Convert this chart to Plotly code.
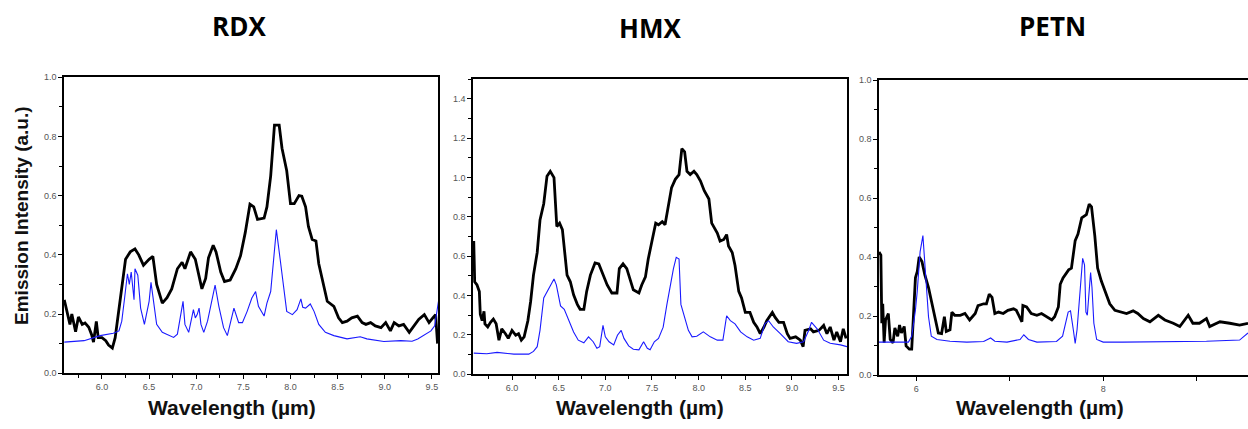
import plotly.graph_objects as go

# ---------------- data ----------------
rdx_black_x = [5.60, 5.63, 5.66, 5.68, 5.72, 5.75, 5.79, 5.82, 5.86, 5.89, 5.91, 5.94, 5.96, 6.00, 6.04, 6.07,
               6.11, 6.14, 6.18, 6.21, 6.25, 6.30, 6.35, 6.39, 6.44, 6.50, 6.54, 6.58, 6.64, 6.69, 6.74, 6.80,
               6.85, 6.88, 6.94, 6.99, 7.03, 7.06, 7.10, 7.13, 7.18, 7.21, 7.26, 7.30, 7.36, 7.42, 7.47, 7.52,
               7.57, 7.61, 7.65, 7.72, 7.75, 7.79, 7.83, 7.88, 7.91, 7.96, 8.00, 8.04, 8.09, 8.12, 8.16, 8.19,
               8.23, 8.27, 8.30, 8.34, 8.39, 8.46, 8.51, 8.55, 8.60, 8.65, 8.71, 8.76, 8.80, 8.85, 8.90, 8.96,
               9.01, 9.06, 9.10, 9.15, 9.20, 9.26, 9.31, 9.36, 9.42, 9.47, 9.51, 9.54, 9.56]
rdx_black_y = [0.248, 0.21, 0.165, 0.20, 0.14, 0.19, 0.165, 0.17, 0.155, 0.13, 0.105, 0.175, 0.12, 0.12, 0.11, 0.095,
               0.085, 0.12, 0.21, 0.285, 0.385, 0.41, 0.42, 0.40, 0.365, 0.385, 0.395, 0.30, 0.237, 0.255, 0.285, 0.353,
               0.375, 0.353, 0.41, 0.385, 0.33, 0.285, 0.32, 0.39, 0.432, 0.41, 0.342, 0.31, 0.315, 0.353, 0.397, 0.475,
               0.571, 0.562, 0.52, 0.524, 0.562, 0.667, 0.838, 0.838, 0.76, 0.684, 0.573, 0.573, 0.60, 0.598, 0.562, 0.496,
               0.452, 0.447, 0.37, 0.309, 0.243, 0.226, 0.187, 0.171, 0.176, 0.187, 0.193, 0.171, 0.165, 0.171, 0.16, 0.154,
               0.171, 0.143, 0.171, 0.16, 0.165, 0.138, 0.16, 0.182, 0.198, 0.171, 0.187, 0.198, 0.10]

rdx_blue_x = [5.60, 5.81, 5.98, 6.12, 6.18, 6.21, 6.24, 6.27, 6.29, 6.31, 6.34, 6.35, 6.38, 6.41, 6.45, 6.50,
              6.52, 6.55, 6.58, 6.64, 6.73, 6.76, 6.80, 6.83, 6.86, 6.88, 6.92, 6.97, 6.99, 7.01, 7.03, 7.05,
              7.08, 7.12, 7.17, 7.20, 7.24, 7.29, 7.33, 7.37, 7.40, 7.45, 7.49, 7.54, 7.59, 7.63, 7.66, 7.72,
              7.75, 7.79, 7.82, 7.85, 7.89, 7.93, 7.96, 8.02, 8.07, 8.11, 8.13, 8.16, 8.21, 8.25, 8.30, 8.37,
              8.46, 8.60, 8.74, 8.81, 8.99, 9.17, 9.29, 9.35, 9.49, 9.53, 9.57]
rdx_blue_y = [0.105, 0.11, 0.127, 0.135, 0.143, 0.176, 0.254, 0.336, 0.30, 0.342, 0.248, 0.353, 0.331, 0.22, 0.165, 0.243,
              0.307, 0.232, 0.165, 0.138, 0.127, 0.121, 0.132, 0.187, 0.243, 0.165, 0.138, 0.215, 0.187, 0.198, 0.22, 0.165,
              0.138, 0.176, 0.254, 0.298, 0.226, 0.154, 0.127, 0.176, 0.22, 0.171, 0.171, 0.209, 0.254, 0.276, 0.226, 0.193,
              0.237, 0.276, 0.386, 0.485, 0.386, 0.276, 0.209, 0.198, 0.215, 0.251, 0.223, 0.22, 0.234, 0.209, 0.165, 0.138,
              0.127, 0.116, 0.123, 0.116, 0.107, 0.11, 0.108, 0.116, 0.143, 0.16, 0.243]

hmx_black_x = [5.59, 5.60, 5.625, 5.65, 5.66, 5.68, 5.70, 5.71, 5.74, 5.77, 5.80, 5.83, 5.86, 5.89, 5.93, 5.96,
               6.00, 6.04, 6.07, 6.10, 6.13, 6.17, 6.20, 6.23, 6.27, 6.30, 6.34, 6.375, 6.41, 6.45, 6.48, 6.51,
               6.54, 6.56, 6.59, 6.625, 6.66, 6.70, 6.73, 6.77, 6.80, 6.84, 6.89, 6.93, 6.96, 7.02, 7.07, 7.125,
               7.15, 7.19, 7.23, 7.27, 7.30, 7.36, 7.39, 7.43, 7.46, 7.50, 7.54, 7.57, 7.61, 7.64, 7.67, 7.71,
               7.75, 7.79, 7.82, 7.85, 7.875, 7.91, 7.95, 7.98, 8.02, 8.06, 8.11, 8.14, 8.20, 8.23, 8.27, 8.30,
               8.32, 8.36, 8.39, 8.43, 8.46, 8.50, 8.55, 8.59, 8.625, 8.66, 8.70, 8.73, 8.79, 8.82, 8.86, 8.91,
               8.95, 8.98, 9.04, 9.09, 9.12, 9.14, 9.20, 9.23, 9.29, 9.34, 9.375, 9.41, 9.45, 9.48, 9.52, 9.55, 9.58]
hmx_black_y = [0.677, 0.47, 0.454, 0.42, 0.305, 0.272, 0.32, 0.256, 0.24, 0.264, 0.28, 0.256, 0.173, 0.23, 0.206, 0.182,
               0.223, 0.198, 0.206, 0.173, 0.19, 0.272, 0.371, 0.504, 0.619, 0.784, 0.867, 1.007, 1.032, 1.0, 0.751, 0.768,
               0.735, 0.636, 0.504, 0.47, 0.404, 0.355, 0.33, 0.33, 0.421, 0.504, 0.566, 0.561, 0.528, 0.454, 0.413, 0.413,
               0.537, 0.561, 0.537, 0.47, 0.429, 0.413, 0.454, 0.495, 0.586, 0.677, 0.768, 0.76, 0.776, 0.76, 0.834, 0.949,
               0.991, 1.015, 1.147, 1.131, 1.032, 1.015, 1.032, 1.015, 0.982, 0.933, 0.891, 0.768, 0.718, 0.677, 0.685, 0.71,
               0.652, 0.619, 0.553, 0.421, 0.388, 0.314, 0.314, 0.264, 0.24, 0.206, 0.24, 0.272, 0.314, 0.289, 0.264, 0.264,
               0.206, 0.182, 0.19, 0.173, 0.14, 0.223, 0.231, 0.215, 0.223, 0.248, 0.206, 0.24, 0.173, 0.215, 0.165, 0.231, 0.182]

hmx_blue_x = [5.59, 5.73, 5.84, 6.02, 6.18, 6.23, 6.27, 6.30, 6.34, 6.375, 6.41, 6.45, 6.475, 6.52, 6.56, 6.61,
              6.66, 6.71, 6.77, 6.82, 6.87, 6.91, 6.94, 6.975, 7.00, 7.04, 7.09, 7.13, 7.17, 7.20, 7.25, 7.30,
              7.36, 7.41, 7.45, 7.48, 7.525, 7.57, 7.62, 7.66, 7.70, 7.73, 7.76, 7.79, 7.81, 7.86, 7.89, 7.93,
              7.98, 8.05, 8.125, 8.20, 8.26, 8.30, 8.34, 8.39, 8.45, 8.52, 8.59, 8.66, 8.71, 8.75, 8.80, 8.875,
              8.96, 9.05, 9.125, 9.18, 9.21, 9.27, 9.34, 9.41, 9.52, 9.59]
hmx_blue_y = [0.107, 0.104, 0.111, 0.102, 0.102, 0.116, 0.14, 0.223, 0.388, 0.421, 0.454, 0.484, 0.454, 0.347, 0.33, 0.272,
              0.215, 0.173, 0.16, 0.19, 0.165, 0.132, 0.14, 0.248, 0.19, 0.165, 0.149, 0.198, 0.223, 0.182, 0.144, 0.127,
              0.124, 0.165, 0.132, 0.124, 0.165, 0.182, 0.239, 0.355, 0.47, 0.537, 0.594, 0.586, 0.355, 0.272, 0.223, 0.19,
              0.193, 0.215, 0.19, 0.173, 0.173, 0.297, 0.272, 0.256, 0.215, 0.19, 0.173, 0.182, 0.256, 0.272, 0.24, 0.206,
              0.165, 0.157, 0.165, 0.223, 0.264, 0.231, 0.173, 0.157, 0.149, 0.14]

petn_black_x = [5.60, 5.62, 5.63, 5.64, 5.655, 5.67, 5.70, 5.72, 5.75, 5.77, 5.80, 5.82, 5.84, 5.87, 5.89, 5.925,
                5.95, 5.97, 5.99, 6.01, 6.03, 6.06, 6.09, 6.13, 6.16, 6.20, 6.235, 6.27, 6.30, 6.32, 6.36, 6.38,
                6.41, 6.47, 6.52, 6.57, 6.63, 6.66, 6.72, 6.75, 6.78, 6.81, 6.84, 6.88, 6.93, 6.98, 7.04, 7.07,
                7.13, 7.14, 7.18, 7.23, 7.29, 7.34, 7.39, 7.45, 7.48, 7.52, 7.54, 7.57, 7.63, 7.66, 7.70, 7.73,
                7.77, 7.82, 7.85, 7.875, 7.91, 7.94, 7.98, 8.02, 8.07, 8.125, 8.20, 8.25, 8.32, 8.37, 8.43, 8.50,
                8.59, 8.66, 8.75, 8.82, 8.91, 8.96, 9.03, 9.105, 9.14, 9.25, 9.355, 9.46, 9.55]
petn_black_y = [0.418, 0.407, 0.176, 0.242, 0.11, 0.187, 0.209, 0.121, 0.11, 0.16, 0.132, 0.17, 0.143, 0.165, 0.099, 0.088,
                0.088, 0.209, 0.33, 0.352, 0.401, 0.385, 0.341, 0.297, 0.253, 0.198, 0.143, 0.141, 0.198, 0.148, 0.154, 0.214,
                0.203, 0.203, 0.209, 0.187, 0.209, 0.236, 0.242, 0.242, 0.275, 0.264, 0.209, 0.214, 0.209, 0.22, 0.225, 0.22,
                0.181, 0.236, 0.231, 0.209, 0.203, 0.209, 0.198, 0.187, 0.198, 0.231, 0.308, 0.33, 0.357, 0.363, 0.456, 0.478,
                0.533, 0.544, 0.58, 0.571, 0.473, 0.363, 0.319, 0.286, 0.242, 0.22, 0.214, 0.209, 0.218, 0.209, 0.192, 0.181,
                0.203, 0.187, 0.176, 0.165, 0.203, 0.176, 0.176, 0.192, 0.165, 0.181, 0.176, 0.17, 0.176]

petn_blue_x = [5.60, 5.915, 5.95, 5.99, 6.01, 6.04, 6.07, 6.08, 6.10, 6.13, 6.16, 6.22, 6.36, 6.54, 6.72, 6.795,
               6.84, 6.97, 7.11, 7.15, 7.20, 7.29, 7.50, 7.565, 7.625, 7.65, 7.68, 7.70, 7.72, 7.75, 7.78, 7.80,
               7.815, 7.83, 7.85, 7.865, 7.88, 7.90, 7.93, 8.00, 8.21, 8.75, 9.105, 9.46, 9.55]
petn_blue_y = [0.112, 0.112, 0.132, 0.22, 0.286, 0.418, 0.473, 0.429, 0.308, 0.198, 0.132, 0.121, 0.115, 0.112, 0.114, 0.126,
               0.115, 0.112, 0.121, 0.137, 0.121, 0.112, 0.114, 0.132, 0.214, 0.218, 0.154, 0.108, 0.154, 0.286, 0.396, 0.374,
               0.214, 0.203, 0.286, 0.348, 0.297, 0.176, 0.121, 0.112, 0.112, 0.113, 0.115, 0.119, 0.143]

titles = ["RDX", "HMX", "PETN"]
x_title = "Wavelength (\u00b5m)"
y_title = "Emission Intensity (a.u.)"
tick_05 = [6.0, 6.5, 7.0, 7.5, 8.0, 8.5, 9.0, 9.5]
petn_xticks = [6, 7, 8, 9]
petn_xlabels = ["6", "", "8", ""]

# ---------------- figure ----------------
W, H = 1248, 429
fig = go.Figure()

def px_x(p):
    return p / W

def px_y(p):
    return 1 - p / H

panels = [
    # (black x, black y, blue x, blue y, x domain px, y domain px (top,bottom), xrange, yrange)
    (rdx_black_x, rdx_black_y, rdx_blue_x, rdx_blue_y, (64, 438), (74, 377), [5.597, 9.565], [0, 1.0]),
    (hmx_black_x, hmx_black_y, hmx_blue_x, hmx_blue_y, (473, 847), (76, 378), [5.582, 9.59], [0, 1.5]),
    (petn_black_x, petn_black_y, petn_blue_x, petn_blue_y, (879, 1248), (77, 379), [5.6, 9.55], [0, 1.0]),
]
tick_font = dict(family="Liberation Sans, Arial", size=9, color="#555")

for i, (bx, by, lx, ly, xd, yd, xr, yr) in enumerate(panels):
    n = "" if i == 0 else str(i + 1)
    xa = "x" + n
    ya = "y" + n
    fig.add_trace(go.Scatter(x=bx, y=by, mode="lines", xaxis=xa, yaxis=ya,
                             line=dict(color="black", width=2.8), showlegend=False))
    fig.add_trace(go.Scatter(x=lx, y=ly, mode="lines", xaxis=xa, yaxis=ya,
                             line=dict(color="#1a1aff", width=1.1), showlegend=False))
    xaxis = dict(domain=[px_x(xd[0]), min(px_x(xd[1]), 1.0)], range=xr, anchor=ya,
                 showgrid=False, zeroline=False, showline=True, linecolor="black", linewidth=1.6,
                 mirror=True, ticks="outside", ticklen=4, tickwidth=1, tickcolor="black",
                 tickfont=tick_font)
    if i < 2:
        xaxis.update(tickvals=tick_05, ticktext=["%.1f" % v for v in tick_05],
                     minor=dict(dtick=0.25, tick0=5.75, ticks="outside", ticklen=3, tickcolor="black"))
    else:
        xaxis.update(tickvals=petn_xticks, ticktext=petn_xlabels)
    yaxis = dict(domain=[px_y(yd[1]), px_y(yd[0])], range=yr, anchor=xa,
                 showgrid=False, zeroline=False, showline=True, linecolor="black", linewidth=1.6,
                 mirror=(i < 2), ticks="outside", ticklen=4, tickwidth=1, tickcolor="black",
                 dtick=0.2, tickformat=".1f",
                 minor=dict(dtick=0.1, ticks="outside", ticklen=3, tickcolor="black"),
                 tickfont=tick_font)
    fig.layout["xaxis" + n] = xaxis
    fig.layout["yaxis" + n] = yaxis

# x titles
for cx in [232, 640, 1040]:
    fig.add_annotation(text="<b>" + x_title + "</b>", x=px_x(cx), y=px_y(412), xref="paper", yref="paper",
                       showarrow=False, xanchor="center", yanchor="middle",
                       font=dict(family="Liberation Sans, Arial", size=21, color="#111"))

# y title
fig.add_annotation(text="<b>" + y_title + "</b>", x=px_x(22), y=px_y(216), xref="paper", yref="paper",
                   showarrow=False, xanchor="center", yanchor="middle", textangle=-90,
                   font=dict(family="Liberation Sans, Arial", size=19, color="#111"))

# panel titles
for t, cx, cy in zip(titles, [239, 650, 1052], [22, 24, 22]):
    fig.add_annotation(text="<b>" + t + "</b>", x=px_x(cx), y=px_y(cy), xref="paper", yref="paper",
                       showarrow=False, xanchor="center", yanchor="middle",
                       font=dict(family="Open Sans", size=26, color="black"))

fig.update_layout(width=W, height=H, margin=dict(l=0, r=0, t=0, b=0),
                  paper_bgcolor="white", plot_bgcolor="white")

fig.write_html("out.html")
